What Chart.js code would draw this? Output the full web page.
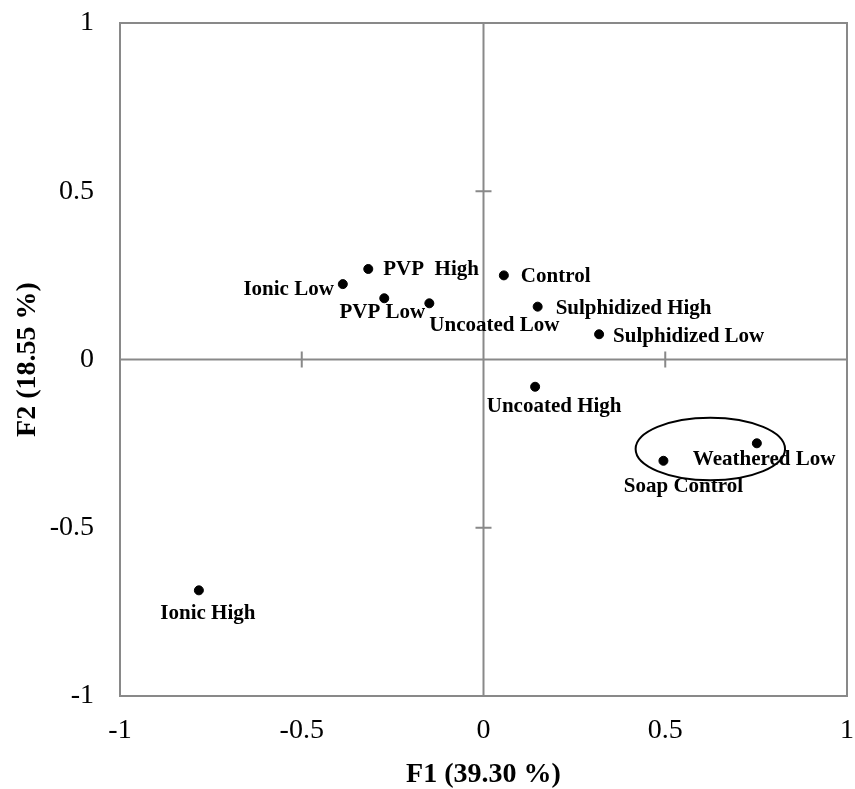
<!DOCTYPE html>
<html>
<head>
<meta charset="utf-8">
<script src="https://cdn.jsdelivr.net/npm/chart.js@4/dist/chart.umd.min.js"></script>
<style>
  html, body { margin: 0; padding: 0; background: #fff; }
  #wrap { width: 855px; height: 789px; position: relative; }
</style>
</head>
<body>
<div id="wrap"><canvas id="c" width="855" height="789"></canvas></div>
<script>
// ---- data ----
const sampleNames = ["PVP  High", "Ionic Low", "PVP Low", "Uncoated Low", "Control",
  "Sulphidized High", "Sulphidized Low", "Uncoated High", "Weathered Low", "Soap Control", "Ionic High"];
const f1Values = [-0.317, -0.387, -0.273, -0.149, 0.056, 0.149, 0.318, 0.142, 0.752, 0.495, -0.783];
const f2Values = [0.269, 0.224, 0.182, 0.167, 0.250, 0.157, 0.075, -0.081, -0.249, -0.301, -0.686];
const axisTicks = [-1, -0.5, 0, 0.5, 1];
const xTitle = "F1 (39.30 %)";
const yTitle = "F2 (18.55 %)";
// cluster ellipse (data units)
const clusterCenter = [0.624, -0.266];
const clusterRadii = [0.2055, 0.0929];

// ---- label placement (pixels relative to point) ----
const labelPlacement = {
  "PVP  High":        { dx: 15, dy: 1, align: "left" },
  "Ionic Low":        { dx: -9, dy: 5, align: "right" },
  "PVP Low":          { dx: -2, dy: 14, align: "center" },
  "Uncoated Low":     { dx: 0, dy: 22, align: "left" },
  "Control":          { dx: 17, dy: 1, align: "left" },
  "Sulphidized High": { dx: 18, dy: 2, align: "left" },
  "Sulphidized Low":  { dx: 14, dy: 2, align: "left" },
  "Uncoated High":    { dx: 19, dy: 20, align: "center" },
  "Weathered Low":    { dx: -64, dy: 16, align: "left" },
  "Soap Control":     { dx: 20, dy: 26, align: "center" },
  "Ionic High":       { dx: 9, dy: 23, align: "center" }
};

const points = f1Values.map((x, i) => ({ x: x, y: f2Values[i] }));
const axisGray = "#898989";
const serif = "'Liberation Serif', 'Times New Roman', serif";

const framePlugin = {
  id: "frame",
  beforeDatasetsDraw(chart) {
    const { ctx, chartArea: a, scales: { x, y } } = chart;
    ctx.save();
    ctx.strokeStyle = axisGray;
    ctx.lineWidth = 2;
    ctx.strokeRect(a.left, a.top, a.right - a.left, a.bottom - a.top);
    const x0 = x.getPixelForValue(0), y0 = y.getPixelForValue(0);
    ctx.beginPath();
    ctx.moveTo(a.left, y0); ctx.lineTo(a.right, y0);
    ctx.moveTo(x0, a.top); ctx.lineTo(x0, a.bottom);
    axisTicks.forEach(v => {
      if (v === 0 || Math.abs(v) === 1) return;
      const px = x.getPixelForValue(v), py = y.getPixelForValue(v);
      ctx.moveTo(px, y0 - 8); ctx.lineTo(px, y0 + 8);
      ctx.moveTo(x0 - 8, py); ctx.lineTo(x0 + 8, py);
    });
    ctx.stroke();
    ctx.restore();
  },
  afterDatasetsDraw(chart) {
    const { ctx, scales: { x, y } } = chart;
    ctx.save();
    ctx.fillStyle = "#000";
    ctx.font = "bold 21px " + serif;
    ctx.textBaseline = "middle";
    const meta = chart.getDatasetMeta(0);
    meta.data.forEach((el, i) => {
      const name = sampleNames[i];
      const p = labelPlacement[name];
      ctx.textAlign = p.align;
      ctx.fillText(name, el.x + p.dx, el.y + p.dy);
    });
    // ellipse
    const cx = x.getPixelForValue(clusterCenter[0]);
    const cy = y.getPixelForValue(clusterCenter[1]);
    const rx = Math.abs(x.getPixelForValue(clusterCenter[0] + clusterRadii[0]) - cx);
    const ry = Math.abs(y.getPixelForValue(clusterCenter[1] + clusterRadii[1]) - cy);
    ctx.beginPath();
    ctx.ellipse(cx, cy, rx, ry, 0, 0, Math.PI * 2);
    ctx.strokeStyle = "#000";
    ctx.lineWidth = 2;
    ctx.stroke();
    ctx.restore();
  }
};

const tickFmt = v => (axisTicks.includes(v) ? String(v) : "");

new Chart(document.getElementById("c"), {
  type: "scatter",
  data: {
    datasets: [{
      label: "samples",
      data: points,
      backgroundColor: "#000",
      borderColor: "#000",
      pointRadius: 4.5,
      pointHoverRadius: 4.5
    }]
  },
  options: {
    responsive: false,
    animation: false,
    devicePixelRatio: 1,
    layout: { padding: { top: 23, right: 8, bottom: 0, left: 0 } },
    plugins: { legend: { display: false }, tooltip: { enabled: false } },
    scales: {
      x: {
        type: "linear", min: -1, max: 1,
        grid: { display: false, drawTicks: true, tickLength: 18 },
        border: { display: false },
        afterBuildTicks: s => { s.ticks = axisTicks.map(v => ({ value: v })); },
        afterFit: s => { s.height = 93; },
        ticks: { callback: tickFmt, color: "#000", padding: 0, maxRotation: 0,
                 font: { family: serif, size: 28 } },
        title: { display: true, text: xTitle, color: "#000", padding: 0,
                 font: { family: serif, size: 28, weight: "bold", lineHeight: 1 } }
      },
      y: {
        type: "linear", min: -1, max: 1,
        grid: { display: false, drawTicks: true, tickLength: 26 },
        border: { display: false },
        afterBuildTicks: s => { s.ticks = axisTicks.map(v => ({ value: v })); },
        afterFit: s => { s.width = 120; },
        ticks: { callback: tickFmt, color: "#000", padding: 0,
                 font: { family: serif, size: 28 } },
        title: { display: true, text: yTitle, color: "#000", padding: { top: 11, bottom: 0 },
                 font: { family: serif, size: 28, weight: "bold" } }
      }
    }
  },
  plugins: [framePlugin]
});
</script>
</body>
</html>
